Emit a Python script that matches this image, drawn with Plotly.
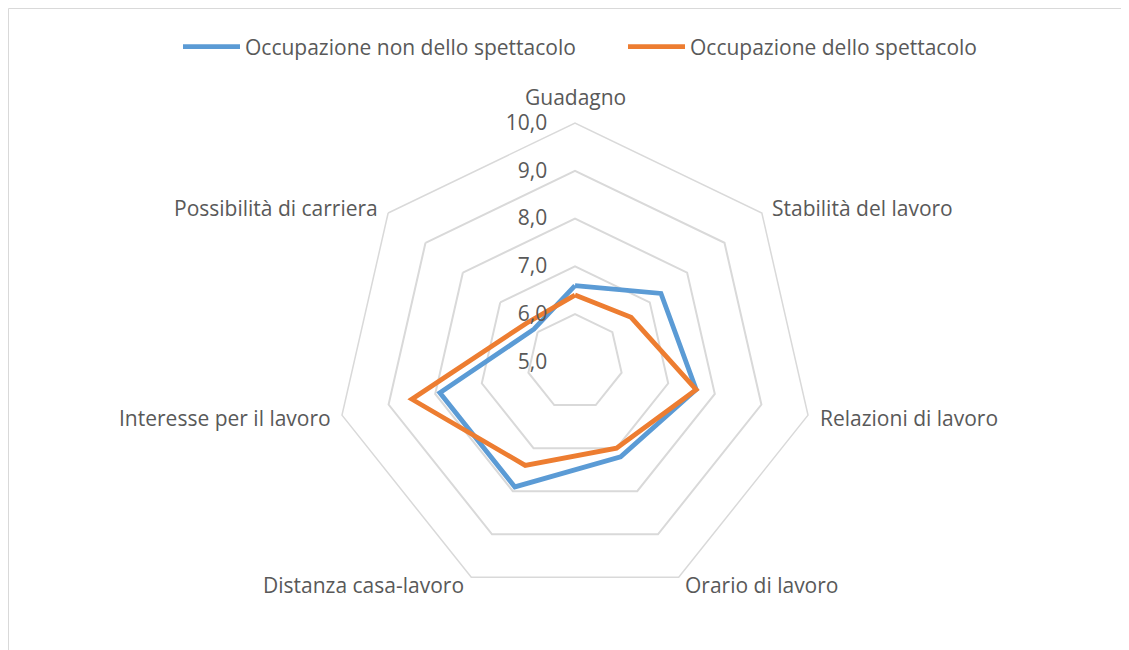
import math
import plotly.graph_objects as go

categories = ["Guadagno", "Stabilità del lavoro", "Relazioni di lavoro", "Orario di lavoro",
              "Distanza casa-lavoro", "Interesse per il lavoro", "Possibilità di carriera"]
non_spettacolo = [6.6, 7.3, 7.6, 7.2, 7.9, 7.9, 6.1]
spettacolo = [6.4, 6.5, 7.6, 7.0, 7.4, 8.5, 6.3]
radial_ticks = [5, 6, 7, 8, 9, 10]

# page body has an 8px margin; figure coordinates = reference - 8
OFF = 8
W, H = 1129 - OFF, 650 - OFF
cx, cy, R = 575 - OFF, 362 - OFF, 239
TXT = "#595959"
FS = 21

# category label offsets from the outer vertex (style only)
label_shift = [(0, 26), (8, 5), (10, -3), (4, -8), (-5, -8), (-9, -3), (-8, 5)]

fig = go.Figure()
fig.add_trace(go.Scatterpolar(
    r=non_spettacolo + non_spettacolo[:1], theta=categories + categories[:1],
    mode="lines", name="Occupazione non dello spettacolo",
    line=dict(color="#5B9BD5", width=4.8)))
fig.add_trace(go.Scatterpolar(
    r=spettacolo + spettacolo[:1], theta=categories + categories[:1],
    mode="lines", name="Occupazione dello spettacolo",
    line=dict(color="#ED7D31", width=4.8)))

annotations = []
n = len(categories)
for i, cat in enumerate(categories):
    a = math.radians(90 - i * 360 / n)
    px = cx + R * math.cos(a)
    py = cy - R * math.sin(a)
    c = math.cos(a)
    xa = "left" if c > 0.1 else ("right" if c < -0.1 else "center")
    dx, dy = label_shift[i]
    annotations.append(dict(text=cat, x=px / W, y=1 - py / H, xref="paper", yref="paper",
                            xanchor=xa, yanchor="middle", xshift=dx, yshift=dy,
                            showarrow=False, font=dict(size=FS, color=TXT)))

fig.update_layout(
    width=W, height=H,
    margin=dict(l=0, r=0, t=0, b=0),
    paper_bgcolor="white",
    separators=",.",
    font=dict(family="Open Sans", size=FS, color=TXT),
    showlegend=True,
    legend=dict(orientation="h", x=(178 - OFF) / W, xanchor="left",
                y=1 - (47 - OFF) / H, yanchor="middle",
                font=dict(size=FS, color=TXT), itemwidth=57, entrywidth=373),
    polar=dict(
        domain=dict(x=[(cx - R) / W, (cx + R) / W], y=[1 - (cy + R) / H, 1 - (cy - R) / H]),
        gridshape="linear",
        bgcolor="white",
        radialaxis=dict(range=[5, 10], tickvals=radial_ticks, tickformat=".1f",
                        angle=90, tickangle=90, side="counterclockwise",
                        showline=False, ticks="outside", ticklen=20,
                        tickcolor="rgba(0,0,0,0)",
                        gridcolor="#d9d9d9", gridwidth=1.5,
                        tickfont=dict(size=FS, color=TXT)),
        angularaxis=dict(rotation=90, direction="clockwise", showgrid=False,
                         showline=True, linecolor="#d9d9d9", linewidth=1.5, ticks="",
                         showticklabels=False),
    ),
    annotations=annotations,
    shapes=[dict(type="rect", xref="paper", yref="paper",
                 x0=0.5 / W, x1=1.2, y0=-0.2, y1=1 - 0.5 / H,
                 line=dict(color="#d9d9d9", width=1), layer="below")],
)

fig.write_html("out.html")
